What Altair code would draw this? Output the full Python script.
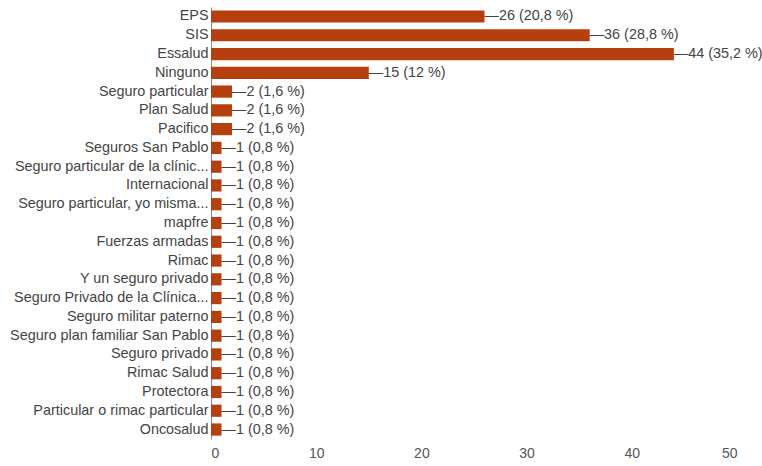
import altair as alt
import pandas as pd

categories = [
    "EPS", "SIS", "Essalud", "Ninguno", "Seguro particular", "Plan Salud", "Pacifico",
    "Seguros San Pablo", "Seguro particular de la clínic...", "Internacional",
    "Seguro particular, yo misma...", "mapfre", "Fuerzas armadas", "Rimac",
    "Y un seguro privado", "Seguro Privado de la Clínica...", "Seguro militar paterno",
    "Seguro plan familiar San Pablo", "Seguro privado", "Rimac Salud", "Protectora",
    "Particular o rimac particular", "Oncosalud",
]
counts = [26, 36, 44, 15, 2, 2, 2, 1, 1, 1, 1, 1, 1, 1, 1, 1, 1, 1, 1, 1, 1, 1, 1]
percents = ["20,8", "28,8", "35,2", "12", "1,6", "1,6", "1,6"] + ["0,8"] * 16
x_ticks = [0, 10, 20, 30, 40, 50]

df = pd.DataFrame({"cat": categories, "n": counts, "pct": percents})
df["label"] = "—" + df["n"].astype(str) + " (" + df["pct"] + " %)"

FONT = "Liberation Sans"
TXT = "#444444"
FS = 14.4

y_enc = alt.Y(
    "cat:N", sort=categories, title=None,
    scale=alt.Scale(paddingInner=0.35, paddingOuter=0.18),
    axis=alt.Axis(labelFont=FONT, labelFontSize=FS, labelColor=TXT, ticks=False,
                  labelPadding=3, domainColor="#888888", labelLimit=300),
)
x_enc = alt.X(
    "n:Q", title=None,
    scale=alt.Scale(domain=[0, 50], nice=False),
    axis=alt.Axis(values=x_ticks, grid=False, domain=False, ticks=False,
                  labelFont=FONT, labelFontSize=14, labelColor="#555555", labelPadding=7),
)

bars = alt.Chart(df).mark_bar(color="#b5400e").encode(x=x_enc, y=y_enc)
texts = alt.Chart(df).mark_text(
    align="left", baseline="middle", dx=0, font=FONT, fontSize=FS, color=TXT
).encode(x="n:Q", y=alt.Y("cat:N", sort=categories), text="label:N")

chart = (bars + texts).properties(
    width=526, height=432,
    autosize=alt.AutoSizeParams(type="none"),
    padding={"left": 211, "top": 7, "right": 25, "bottom": 27},
    background="white",
).configure_view(stroke=None)

chart.save("out.html", embed_options={"renderer": "svg", "actions": False})
